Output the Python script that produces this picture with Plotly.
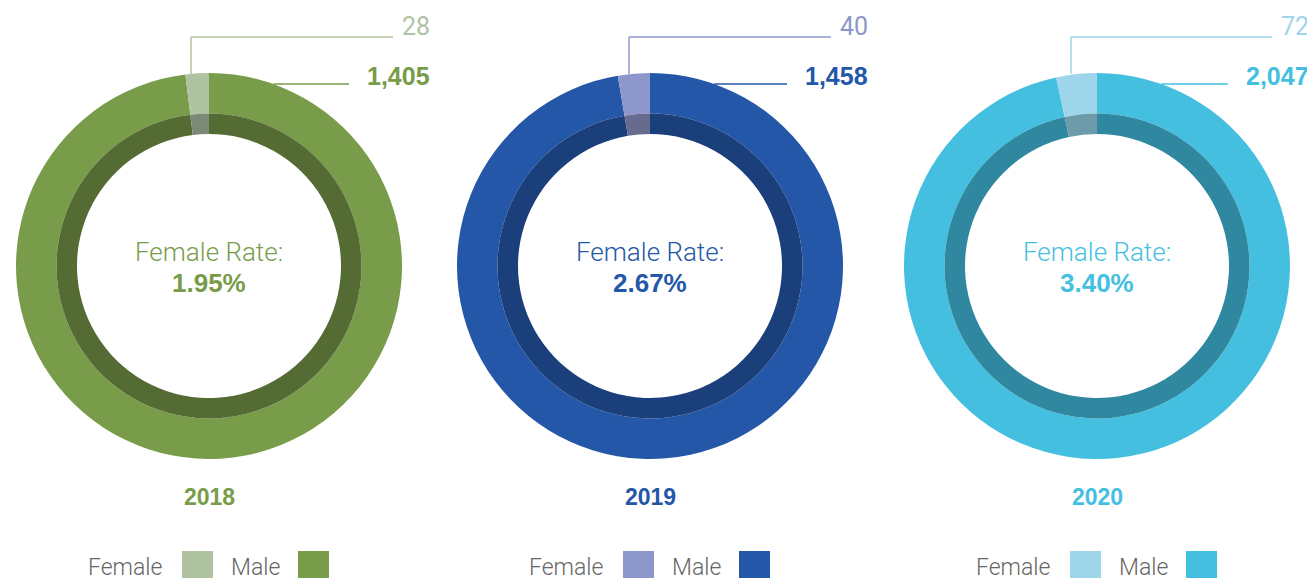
import plotly.graph_objects as go
import numpy as np

# data
years = ["2018", "2019", "2020"]
female = [28, 40, 72]
male = [1405, 1458, 2047]

# colours per year: male, female, inner male, inner female
male_colors = ["#789c4a", "#2457a8", "#45bfe0"]
female_colors = ["#b0c3a1", "#8d97cb", "#9fd5ea"]
inner_male_colors = ["#546b34", "#1b3f7a", "#2f889f"]
inner_female_colors = ["#7b8a76", "#676c8f", "#6d9ba9"]

# page has an 8px body margin, so the figure is shifted and shrunk
OFF = 8
W, H = 1315 - OFF, 578 - OFF
centers = [209, 650, 1097]
cy = 266
R_OUT, R_MID, R_IN = 193, 152.5, 132
lead_off = [18, 21, 26]
label_right = [432, 870, 1311]

LIGHT = "Roboto"
BOLD = "Liberation Sans"


def px(x):
    return (x - OFF) / W


def py(y):
    return 1 - (y - OFF) / H


fig = go.Figure()
shapes = []
annotations = []

for k, yr in enumerate(years):
    cx = centers[k]
    rate = female[k] / (female[k] + male[k]) * 100

    # male first, clockwise from 12 o'clock -> female sits just left of the top
    for hole, r, cols in [
        (R_MID / R_OUT, R_OUT, [male_colors[k], female_colors[k]]),
        (R_IN / R_MID, R_MID, [inner_male_colors[k], inner_female_colors[k]]),
    ]:
        fig.add_trace(go.Pie(
            values=[male[k], female[k]], labels=["Male", "Female"],
            sort=False, direction="clockwise", rotation=0,
            hole=hole, textinfo="none", hoverinfo="label+value",
            marker=dict(colors=cols, line=dict(width=0)),
            domain=dict(x=[px(cx - r), px(cx + r)], y=[py(cy + r), py(cy - r)]),
            showlegend=False,
        ))

    # leader lines
    lx = cx - lead_off[k]
    tr = label_right[k]
    shapes.append(dict(type="line", xref="paper", yref="paper",
                       x0=px(lx), y0=py(74), x1=px(lx), y1=py(37),
                       line=dict(color=female_colors[k], width=1.5)))
    shapes.append(dict(type="line", xref="paper", yref="paper",
                       x0=px(lx), y0=py(37), x1=px(tr - 39), y1=py(37),
                       line=dict(color=female_colors[k], width=1.5)))
    ring_x = cx + np.sqrt(R_OUT ** 2 - (cy - 84) ** 2)
    shapes.append(dict(type="line", xref="paper", yref="paper",
                       x0=px(ring_x), y0=py(84), x1=px(tr - 83), y1=py(84),
                       line=dict(color=male_colors[k], width=1.5)))

    annotations.append(dict(x=px(tr), y=py(27), xref="paper", yref="paper",
                            text=f"{female[k]:,}", showarrow=False, xanchor="right", yanchor="middle",
                            font=dict(family=LIGHT, size=25, color=female_colors[k], weight=400)))
    annotations.append(dict(x=px(tr), y=py(76), xref="paper", yref="paper",
                            text=f"{male[k]:,}", showarrow=False, xanchor="right", yanchor="middle",
                            font=dict(family=BOLD, size=25, color=male_colors[k], weight=700)))

    # centre text
    annotations.append(dict(x=px(cx), y=py(252), xref="paper", yref="paper",
                            text="Female Rate:", showarrow=False, xanchor="center", yanchor="middle",
                            font=dict(family=LIGHT, size=26, color=male_colors[k], weight=300)))
    annotations.append(dict(x=px(cx), y=py(283), xref="paper", yref="paper",
                            text=f"{rate:.2f}%", showarrow=False, xanchor="center", yanchor="middle",
                            font=dict(family=BOLD, size=26, color=male_colors[k], weight=700)))
    # year
    annotations.append(dict(x=px(cx), y=py(497), xref="paper", yref="paper",
                            text=yr, showarrow=False, xanchor="center", yanchor="middle",
                            font=dict(family=BOLD, size=23, color=male_colors[k], weight=700)))

    # legend
    annotations.append(dict(x=px(cx - 84), y=py(567), xref="paper", yref="paper",
                            text="Female", showarrow=False, xanchor="center", yanchor="middle",
                            font=dict(family=LIGHT, size=23, color="#666666", weight=300)))
    annotations.append(dict(x=px(cx + 46), y=py(567), xref="paper", yref="paper",
                            text="Male", showarrow=False, xanchor="center", yanchor="middle",
                            font=dict(family=LIGHT, size=23, color="#666666", weight=300)))
    shapes.append(dict(type="rect", xref="paper", yref="paper",
                       x0=px(cx - 27), x1=px(cx + 4), y0=py(583), y1=py(551),
                       fillcolor=female_colors[k], line=dict(width=0)))
    shapes.append(dict(type="rect", xref="paper", yref="paper",
                       x0=px(cx + 89), x1=px(cx + 120), y0=py(583), y1=py(551),
                       fillcolor=male_colors[k], line=dict(width=0)))

fig.update_layout(
    width=W, height=H,
    margin=dict(l=0, r=0, t=0, b=0),
    paper_bgcolor="white", plot_bgcolor="white",
    shapes=shapes, annotations=annotations,
    showlegend=False,
)

fig.write_html("out.html")
